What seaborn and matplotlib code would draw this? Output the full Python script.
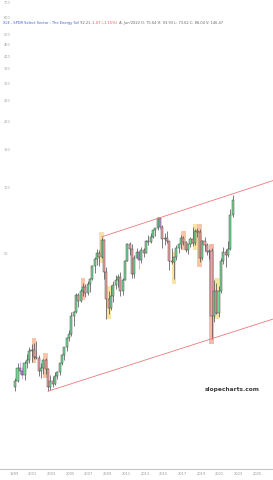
import numpy as np
import pandas as pd
import matplotlib
matplotlib.use("Agg")
import matplotlib.pyplot as plt
import seaborn as sns
from matplotlib.ticker import NullLocator, NullFormatter

# ---------------- data (quarterly, dividend-adjusted XLE) ----------------
start_quarter = "1999Q1"
open_ = [12.4, 13.2, 15.0, 14.6, 14.0, 15.8, 16.4, 18.0, 18.2, 17.0, 16.8, 14.6,
         15.0, 16.4, 14.9, 12.4, 13.2, 12.8, 13.9, 14.4, 15.9, 17.2, 18.7, 20.7,
         21.5, 26.0, 27.0, 32.5, 30.5, 33.8, 35.2, 33.2, 36.4, 38.3, 43.9, 47.6,
         50.6, 48.4, 57.8, 41.2, 31.2, 28.3, 32.0, 36.0, 38.0, 39.1, 33.8, 38.1,
         46.5, 55.4, 52.4, 40.6, 48.0, 50.9, 47.1, 52.1, 50.7, 57.4, 56.8, 60.0,
         64.1, 65.4, 72.8, 66.6, 58.2, 58.8, 57.0, 46.4, 45.7, 48.4, 53.3, 55.2,
         58.8, 56.4, 52.3, 55.2, 58.3, 56.2, 63.3, 63.1, 47.8, 57.0, 54.9, 51.0,
         51.7, 26.0, 33.8, 26.8, 33.8, 46.2, 50.8, 49.2, 52.4, 75.6]
high = [13.6, 15.8, 16.0, 15.2, 16.3, 17.5, 18.8, 19.3, 19.6, 20.0, 17.2, 15.8,
        16.6, 16.8, 15.0, 14.0, 13.8, 14.4, 14.6, 15.9, 17.5, 18.8, 20.8, 22.4,
        27.0, 27.4, 33.0, 33.0, 34.4, 37.0, 36.4, 37.4, 38.8, 44.6, 48.2, 52.5,
        52.3, 59.8, 58.2, 43.5, 34.0, 36.0, 37.4, 40.0, 40.3, 41.4, 38.6, 46.8,
        55.8, 56.6, 55.4, 49.5, 53.0, 51.5, 53.5, 53.4, 57.6, 61.2, 62.0, 64.5,
        65.8, 73.5, 73.0, 67.6, 62.2, 63.6, 57.2, 53.2, 48.6, 55.0, 55.4, 61.0,
        60.4, 57.2, 55.6, 60.0, 66.2, 65.0, 65.4, 65.0, 57.6, 59.5, 56.0, 52.6,
        53.0, 38.0, 36.8, 35.8, 48.0, 53.5, 52.8, 57.0, 80.2, 92.5]
low = [11.8, 13.0, 14.2, 13.4, 13.3, 15.0, 15.8, 16.0, 16.6, 16.6, 13.8, 13.6,
       14.2, 14.2, 11.8, 12.0, 12.3, 12.6, 13.4, 14.0, 15.6, 16.4, 18.0, 20.0,
       21.0, 23.5, 26.8, 28.5, 30.3, 32.2, 31.8, 32.3, 33.4, 38.0, 41.0, 44.5,
       43.8, 47.8, 38.5, 25.3, 26.6, 27.8, 30.2, 34.5, 35.2, 32.2, 32.6, 37.8,
       46.2, 49.6, 38.8, 38.6, 47.8, 42.7, 45.2, 48.6, 50.5, 54.6, 56.0, 59.2,
       60.6, 64.5, 65.2, 53.3, 54.8, 56.2, 42.2, 44.8, 38.2, 46.8, 50.5, 52.8,
       54.8, 50.9, 49.8, 53.5, 54.4, 54.6, 59.8, 45.8, 47.0, 51.8, 49.5, 47.4,
       20.4, 24.5, 26.6, 25.8, 33.2, 45.0, 43.5, 48.6, 52.0, 73.6]
close = [13.2, 15.0, 14.6, 14.0, 15.8, 16.4, 18.0, 18.2, 17.0, 16.8, 14.6, 15.0,
         16.4, 14.9, 12.4, 13.2, 12.8, 13.9, 14.4, 15.9, 17.2, 18.7, 20.7, 21.5,
         26.0, 27.0, 32.5, 30.5, 33.8, 35.2, 33.2, 36.4, 38.3, 43.9, 47.6, 50.6,
         48.4, 57.8, 41.2, 31.2, 28.3, 32.0, 36.0, 38.0, 39.1, 33.8, 38.1, 46.5,
         55.4, 52.4, 40.6, 48.0, 50.9, 47.1, 52.1, 50.7, 57.4, 56.8, 60.0, 64.1,
         65.4, 72.8, 66.6, 58.2, 58.8, 57.0, 46.4, 45.7, 48.4, 53.3, 55.2, 58.8,
         56.4, 52.3, 55.2, 58.3, 56.2, 63.3, 63.1, 47.8, 57.0, 54.9, 51.0, 51.7,
         26.0, 33.8, 26.8, 33.8, 46.2, 50.8, 49.2, 52.4, 75.6, 88.0]

year_ticks = [1999, 2001, 2003, 2005, 2007, 2009, 2011, 2013, 2015, 2017, 2019,
              2021, 2023, 2025]
price_ticks = [50, 100, 150, 200, 250, 300, 350, 400, 450, 500, 600, 700]

upper_channel_t = [2008.375, 2026.70]
upper_channel_p = [59.8, 108.0]
lower_channel_t = [2002.625, 2026.70]
lower_channel_p = [11.8, 25.2]

header_parts = [
    ("XLE - SPDR Select Sector - The Energy Sel", "#4060c8"),
    (" 92.21", "#666666"),
    (" -1.07 (-1.15%)", "#e05555"),
    (" A: Jun/2022 O: 75.64 H: 93.93 L: 73.62 C: 88.04 V: 146.47", "#666666"),
]

# ---------------- styles ----------------
highlights = {"2001Q1": "#f7b08a", "2002Q2": "#f7b08a", "2006Q2": "#f7b08a",
              "2008Q2": "#f5dc85", "2009Q1": "#f5dc85", "2016Q1": "#f5dc85",
              "2017Q1": "#f7b08a", "2018Q2": "#f5dc85", "2018Q4": "#f7b08a",
              "2020Q1": "#f7a080", "2020Q3": "#f5dc85"}
purple_q = {"1999Q3", "1999Q4", "2012Q2", "2014Q3"}
UP = "#74d894"
DOWN = "#f3a0a0"
PURPLE = "#c58be0"
EDGE = "#4a4a4a"

sns.set_style("white")
plt.rcParams["font.family"] = ["DejaVu Sans"]

periods = pd.period_range(start_quarter, periods=len(close), freq="Q")
df = pd.DataFrame({
    "period": periods.astype(str),
    "t": periods.year + (periods.quarter - 0.5) / 4.0,
    "open": open_, "high": high, "low": low, "close": close,
})

fig = plt.figure(figsize=(2.73, 4.80), dpi=100)
ax = fig.add_axes([0, 11.5 / 480, 1, 468.5 / 480])
ax.set_yscale("log")
ax.set_xlim(1997.503, 2026.701)
ax.set_ylim(5.24, 720.6)

# highlight boxes
hl = df[df["period"].isin(highlights.keys())]
ax.bar(hl["t"], hl["high"] * 1.05 - hl["low"] / 1.05, bottom=hl["low"] / 1.05,
       width=0.5, color=[highlights[p] for p in hl["period"]], alpha=0.75,
       linewidth=0, zorder=1)

# wicks
wick_colors = [PURPLE if p in purple_q else EDGE for p in df["period"]]
ax.vlines(df["t"], df["low"], df["high"], colors=wick_colors, linewidth=0.5,
          zorder=2)

# bodies
body_colors = []
for p, o, c in zip(df["period"], df["open"], df["close"]):
    if p in purple_q:
        body_colors.append(PURPLE)
    elif c >= o:
        body_colors.append(UP)
    else:
        body_colors.append(DOWN)
bottom = np.minimum(df["open"], df["close"])
height = np.maximum(np.abs(df["close"] - df["open"]), 0.15)
ax.bar(df["t"], height, bottom=bottom, width=0.22, color=body_colors,
       edgecolor=EDGE, linewidth=0.35, zorder=3)

# channel lines
up_df = pd.DataFrame({"t": upper_channel_t, "price": upper_channel_p})
lo_df = pd.DataFrame({"t": lower_channel_t, "price": lower_channel_p})
sns.lineplot(data=up_df, x="t", y="price", ax=ax, color="#e77b7b", linewidth=0.6,
             zorder=4)
sns.lineplot(data=lo_df, x="t", y="price", ax=ax, color="#e77b7b", linewidth=0.6,
             zorder=4)

# axes styling
for s in ["top", "right", "left"]:
    ax.spines[s].set_visible(False)
ax.spines["bottom"].set_color("#c4c4c4")
ax.spines["bottom"].set_linewidth(0.8)
ax.set_xlabel("")
ax.set_ylabel("")

ax.set_xticks(year_ticks)
ax.set_xticklabels([str(y) for y in year_ticks])
ax.tick_params(axis="x", length=0, labelsize=2.6, colors="#999999", pad=2.5)

ax.yaxis.set_minor_locator(NullLocator())
ax.yaxis.set_minor_formatter(NullFormatter())
ax.set_yticks(price_ticks)
ax.set_yticklabels([str(v) for v in price_ticks])
ax.tick_params(axis="y", length=0, labelsize=2.5, colors="#a0a0a0", pad=-2.5)
for lbl in ax.get_yticklabels():
    lbl.set_horizontalalignment("left")

# header
renderer = fig.canvas.get_renderer()
x = 3 / 273
y = 1 - 23 / 480
for s, c in header_parts:
    txt = fig.text(x, y, s, color=c, fontsize=2.6, va="center", ha="left")
    bb = txt.get_window_extent(renderer)
    x = fig.transFigure.inverted().transform((bb.x1, bb.y0))[0]

# watermark
fig.text(232 / 273, 1 - 390 / 480, "slopecharts.com", ha="center", va="center",
         fontsize=4.2, fontweight="bold", color="#3a3a3a")

fig.savefig("out.png", dpi=100, facecolor="white")
